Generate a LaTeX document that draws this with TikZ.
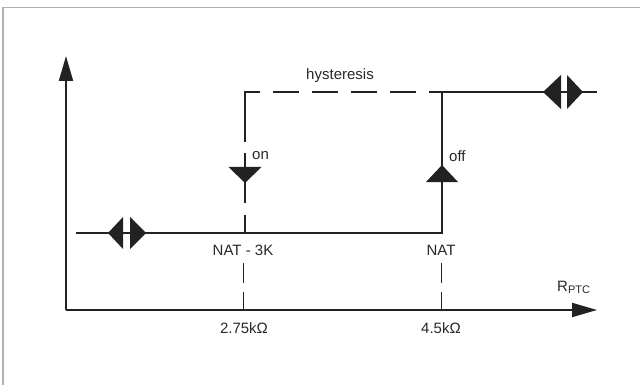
\documentclass[tikz,border=0pt]{standalone}
\usepackage{fontspec}
\setmainfont{Liberation Sans}
\usetikzlibrary{arrows.meta}
\definecolor{frame}{RGB}{176,176,176}
\definecolor{ink}{RGB}{34,34,34}
\definecolor{txt}{RGB}{40,40,40}
\begin{document}
\begin{tikzpicture}[x=1pt,y=-1pt,
  mainline/.style={line width=2pt,draw=ink},
  tickline/.style={line width=1pt,draw=ink,dash pattern=on 20pt off 9pt},
  axisline/.style={line width=2pt,draw=ink,-{Triangle[length=25pt,width=14pt]}},
  tri/.style={fill=ink,draw=none},
  lbl/.style={font=\fontsize{15}{15}\selectfont,text=txt,inner sep=0pt}]
\useasboundingbox (0,0) rectangle (640,385);
% frame
\draw[frame,line width=1.5pt] (3,385) -- (3,7.5) -- (640,7.5);
% coordinates
\coordinate (O) at (66,310);
\coordinate (ytop) at (66,56);
\coordinate (xend) at (597,310);
\coordinate (lowstart) at (76,233);
\coordinate (onlow) at (245,233);
\coordinate (offlow) at (442,233);
\coordinate (ontop) at (245,92);
\coordinate (offtop) at (442,92);
\coordinate (topend) at (597,92);
% axes
\draw[axisline] (O) -- (ytop);
\draw[axisline] (O) -- (xend);
% low line
\draw[mainline] (lowstart) -- (offlow) -- (offtop) -- (topend);
% dashed hysteresis path
\draw[mainline] (onlow) -- (245,215);
\draw[mainline] (245,203) -- (245,153);
\draw[mainline] (245,142) -- (ontop) -- (260,92);
\draw[mainline,dash pattern=on 26pt off 13pt] (273,92) -- (offtop);
% on / off triangles
\fill[tri] (228.5,167) -- (261.5,167) -- (245,183) -- cycle;
\fill[tri] (426,182) -- (458,182) -- (442,165) -- cycle;
% double arrows
\fill[tri] (108,233) -- (123,217) -- (123,249) -- cycle;
\fill[tri] (146,233) -- (130,217) -- (130,249) -- cycle;
\fill[tri] (543,92) -- (561,75) -- (561,109) -- cycle;
\fill[tri] (583,92) -- (567,75) -- (567,109) -- cycle;
% labels
\node[lbl] (hys) at (340,76) {hysteresis};
\node[lbl,anchor=west] (on) at (252,156) {on};
\node[lbl,anchor=west] (off) at (449,156) {off};
\node[lbl] (nat3) at (243,250) {NAT - 3K};
\node[lbl] (nat) at (441,250) {NAT};
\node[lbl] (v1) at (244,328) {2.75kΩ};
\node[lbl] (v2) at (441,328) {4.5kΩ};
\node[lbl,anchor=west] (rptc) at (557,287) {R\raisebox{-0.25ex}{\fontsize{11}{11}\selectfont PTC}};
% tick lines
\draw[tickline] (nat3.south |- 0,263) -- (nat3.south |- O);
\draw[tickline] (nat.south |- 0,263) -- (nat.south |- O);
\end{tikzpicture}
\end{document}
